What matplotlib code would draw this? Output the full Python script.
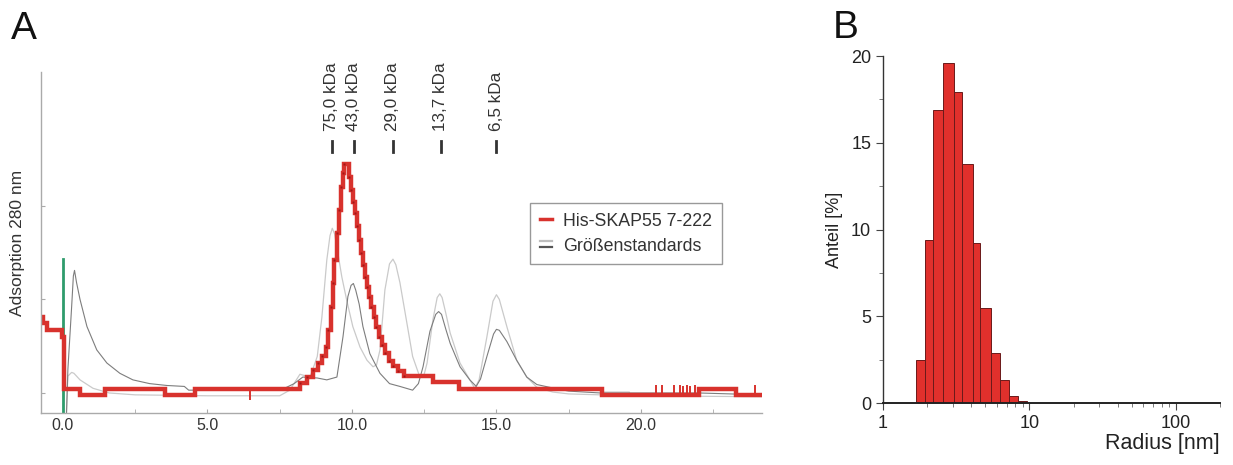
import numpy as np
import matplotlib
matplotlib.use("Agg")
import matplotlib.pyplot as plt
from matplotlib.lines import Line2D
from matplotlib.legend_handler import HandlerBase
from matplotlib.ticker import MultipleLocator, LogLocator, NullFormatter, FixedLocator

plt.rcParams['font.family'] = ['Liberation Sans', 'DejaVu Sans']

# --- Panel A: SEC chromatogram ---
red_x = [-0.76, -0.68, -0.56, -0.04, 0.05, 0.6, 1.45, 3.53, 4.57,
         8.2, 8.43, 8.66, 8.83, 8.98, 9.1, 9.18, 9.26, 9.33, 9.39, 9.47, 9.54,
         9.61, 9.68, 9.74, 9.9, 9.96, 10.03, 10.1, 10.17, 10.24, 10.31, 10.38,
         10.45, 10.52, 10.59, 10.66, 10.75, 10.84, 10.93, 11.03, 11.14, 11.29,
         11.43, 11.6, 11.8, 12.8, 13.7, 18.65, 22.0, 23.3, 24.2]
red_y = [0.81, 0.75, 0.67, 0.60, 0.045, -0.02, 0.045, -0.02, 0.045,
         0.11, 0.17, 0.25, 0.32, 0.39, 0.49, 0.67, 0.92, 1.17, 1.42, 1.71, 1.96,
         2.2, 2.35, 2.45, 2.31, 2.17, 2.04, 1.92, 1.78, 1.64, 1.5, 1.37,
         1.24, 1.13, 1.03, 0.92, 0.81, 0.71, 0.6, 0.51, 0.43, 0.34,
         0.29, 0.24, 0.18, 0.12, 0.045, -0.02, 0.045, -0.02, -0.02]
# short noise spikes on the red trace
spike_x = [6.47, 20.52, 20.73, 21.14, 21.35, 21.45, 21.59, 21.7, 21.87, 23.94]
spike_lo = [-0.07, -0.02, -0.02, -0.02, -0.02, -0.02, -0.02, -0.02, -0.02, -0.02]
spike_hi = [0.045, 0.08, 0.08, 0.08, 0.08, 0.07, 0.08, 0.07, 0.08, 0.08]

std_dark_x = [0.12, 0.17, 0.3, 0.36, 0.4, 0.47, 0.59, 0.83, 1.17, 1.52, 1.97, 2.42,
              3.0, 3.6, 4.2, 4.35, 5.5, 7.0, 7.6, 8.0, 8.3, 8.8, 9.13, 9.48,
              9.69, 9.86, 9.97, 10.05, 10.13, 10.25, 10.38, 10.62, 10.97, 11.3,
              11.66, 12.1, 12.3, 12.46, 12.7, 12.9, 13.0, 13.1, 13.25, 13.4,
              13.74, 14.08, 14.3, 14.45, 14.67, 14.9, 15.0, 15.1, 15.36, 15.7,
              16.05, 16.4, 17.0, 17.5, 18.6, 22.0, 24.2]
std_dark_y = [-0.25, 0.25, 0.92, 1.25, 1.31, 1.18, 1.0, 0.71, 0.46, 0.32, 0.21, 0.14,
              0.1, 0.08, 0.07, 0.03, 0.03, 0.03, 0.04, 0.1, 0.17, 0.16, 0.14, 0.17,
              0.6, 1.03, 1.15, 1.17, 1.1, 0.95, 0.71, 0.42, 0.21, 0.1,
              0.07, 0.03, 0.1, 0.28, 0.66, 0.84, 0.87, 0.84, 0.68, 0.53,
              0.28, 0.14, 0.07, 0.15, 0.39, 0.63, 0.68, 0.67, 0.55, 0.35,
              0.17, 0.09, 0.05, 0.02, 0.0, 0.0, -0.02]

std_light_x = [0.12, 0.17, 0.3, 0.38, 0.59, 1.04, 1.6, 2.5, 5.0, 7.5, 7.85, 8.2, 8.55,
               8.8, 8.96, 9.13, 9.24, 9.32, 9.4, 9.5, 9.65, 9.82, 10.03, 10.28,
               10.52, 10.73, 10.85, 10.97, 11.14, 11.3, 11.42, 11.52, 11.66, 11.9,
               12.1, 12.35, 12.5, 12.6, 12.8, 12.95, 13.04, 13.12, 13.25, 13.4,
               13.74, 14.08, 14.25, 14.4, 14.67, 14.88, 15.0, 15.1, 15.36, 15.7,
               16.05, 16.4, 16.95, 17.5, 18.6, 18.61, 19.6, 19.61, 24.2]
std_light_y = [-0.2, 0.18, 0.22, 0.21, 0.14, 0.05, 0.0, -0.02, -0.03, -0.03, 0.03, 0.2,
               0.17, 0.39, 0.81, 1.42, 1.68, 1.76, 1.7, 1.52, 1.24, 0.99, 0.71, 0.49,
               0.35, 0.28, 0.3, 0.46, 1.1, 1.38, 1.43, 1.37, 1.18, 0.75,
               0.39, 0.17, 0.2, 0.32, 0.78, 1.02, 1.06, 1.02, 0.85, 0.64,
               0.32, 0.14, 0.05, 0.14, 0.6, 0.98, 1.05, 1.0, 0.71, 0.35,
               0.17, 0.06, 0.01, -0.01, -0.02, 0.01, 0.01, -0.03, -0.04]

marker_pos = [9.3, 10.07, 11.42, 13.08, 15.0]
marker_labels = ['75,0 kDa', '43,0 kDa', '29,0 kDa', '13,7 kDa', '6,5 kDa']

# --- Panel B: DLS size distribution ---
bin_edges = [1.67, 1.93, 2.19, 2.58, 3.07, 3.44, 4.09, 4.61, 5.45, 6.3, 7.26, 8.36, 9.67]
share = [2.5, 9.4, 16.9, 19.6, 17.9, 13.8, 9.2, 5.5, 2.9, 1.3, 0.42, 0.13]


class DoubleLineHandler(HandlerBase):
    def create_artists(self, legend, orig_handle, xdescent, ydescent,
                       width, height, fontsize, trans):
        top = Line2D([-xdescent, -xdescent + width], [0.78 * height] * 2,
                     color='#bdbdbd', lw=1.6, transform=trans)
        bot = Line2D([-xdescent, -xdescent + width], [0.3 * height] * 2,
                     color='#555555', lw=1.6, transform=trans)
        return [top, bot]


fig = plt.figure(figsize=(12.33, 4.65), dpi=100)
axA = fig.add_axes([41 / 1233, 52 / 465, 721 / 1233, 341 / 465])
axB = fig.add_axes([883 / 1233, 62 / 465, 337 / 1233, 347 / 465])

axA.plot(std_light_x, std_light_y, color='#cacaca', lw=0.9)
axA.plot(std_dark_x, std_dark_y, color='#7d7d7d', lw=0.8)
axA.plot([0.0, 0.0], [-0.3, 1.43], color='#2f9c6c', lw=2.0)
axA.plot(red_x, red_y, drawstyle='steps-post', color='#d8322d', lw=3.2,
         solid_joinstyle='miter')
axA.vlines(spike_x, spike_lo, spike_hi, color='#d8322d', lw=1.4)
# darker dots on the steps of the peak
peak_pts = [(x, y) for x, y in zip(red_x, red_y) if 8.0 < x < 12.0]
axA.plot([p[0] for p in peak_pts], [p[1] for p in peak_pts], ls='none',
         marker='s', ms=1.8, mfc='#a31616', mec='none')

for xp, lab in zip(marker_pos, marker_labels):
    axA.plot([xp, xp], [2.58, 2.69], color='#333333', lw=2.0, clip_on=False)
    axA.text(xp, 2.8, lab, rotation=90, ha='center', va='bottom',
             fontsize=12.3, color='#333333', clip_on=False)

axA.set_xlim(-0.76, 24.19)
axA.set_ylim(-0.214, 3.43)
axA.xaxis.set_major_locator(FixedLocator([0, 5, 10, 15, 20]))
axA.xaxis.set_minor_locator(FixedLocator([2.5, 7.5, 12.5, 17.5, 22.5]))
axA.set_xticklabels(['0.0', '5.0', '10.0', '15.0', '20.0'])
axA.yaxis.set_major_locator(FixedLocator([0, 1, 2]))
axA.set_yticklabels([])
axA.tick_params(axis='both', which='both', direction='in', length=3,
                color='#aaaaaa', labelsize=11.5, labelcolor='#333333')
for s in ['top', 'right']:
    axA.spines[s].set_visible(False)
for s in ['left', 'bottom']:
    axA.spines[s].set_color('#aaaaaa')
    axA.spines[s].set_linewidth(1.0)

h_red = Line2D([], [], color='#d8322d', lw=2.5)
leg = axA.legend([h_red, object()], ['His-SKAP55 7-222', 'Größenstandards'],
                 handler_map={object: DoubleLineHandler()},
                 loc='upper left', bbox_to_anchor=(0.678, 0.616),
                 borderaxespad=0, fontsize=12.8, handlelength=0.7,
                 handletextpad=0.6, labelspacing=0.45, borderpad=0.55,
                 fancybox=False, framealpha=1)
leg.get_frame().set_edgecolor('#999999')
leg.get_frame().set_linewidth(1.0)
for t in leg.get_texts():
    t.set_color('#333333')

fig.text(18 / 1233, 1 - 243 / 465, 'Adsorption 280 nm', rotation=90,
         ha='center', va='center', fontsize=12.5, color='#333333')

# panel B
axB.bar(bin_edges[:-1], share, width=np.diff(bin_edges), align='edge',
        color='#e0302c', edgecolor='#6a1a1a', linewidth=0.7)
axB.set_xscale('log')
axB.set_xlim(1, 200)
axB.set_ylim(0, 20)
axB.xaxis.set_major_locator(FixedLocator([1, 10, 100]))
axB.set_xticklabels(['1', '10', '100'])
axB.xaxis.set_minor_locator(LogLocator(base=10, subs=np.arange(2, 10)))
axB.xaxis.set_minor_formatter(NullFormatter())
axB.yaxis.set_major_locator(MultipleLocator(5))
axB.yaxis.set_minor_locator(MultipleLocator(2.5))
axB.tick_params(axis='both', which='major', direction='out', length=5,
                labelsize=13, color='#444444', labelcolor='#222222')
axB.tick_params(axis='both', which='minor', direction='out', length=3,
                color='#666666')
for s in ['top', 'right']:
    axB.spines[s].set_visible(False)
axB.spines['left'].set_color('#333333')
axB.spines['left'].set_linewidth(1.0)
axB.spines['bottom'].set_color('#222222')
axB.spines['bottom'].set_linewidth(1.4)
axB.set_xlabel('Radius [nm]', loc='right', fontsize=15.5, color='#222222', labelpad=1)
axB.set_ylabel('Anteil [%]', fontsize=13, color='#222222', labelpad=6)

fig.text(11 / 1233, 1 - 39 / 465, 'A', fontsize=28, va='baseline', color='#111111')
fig.text(833 / 1233, 1 - 38 / 465, 'B', fontsize=28, va='baseline', color='#111111')

fig.savefig('out.png', dpi=100, facecolor='white')
